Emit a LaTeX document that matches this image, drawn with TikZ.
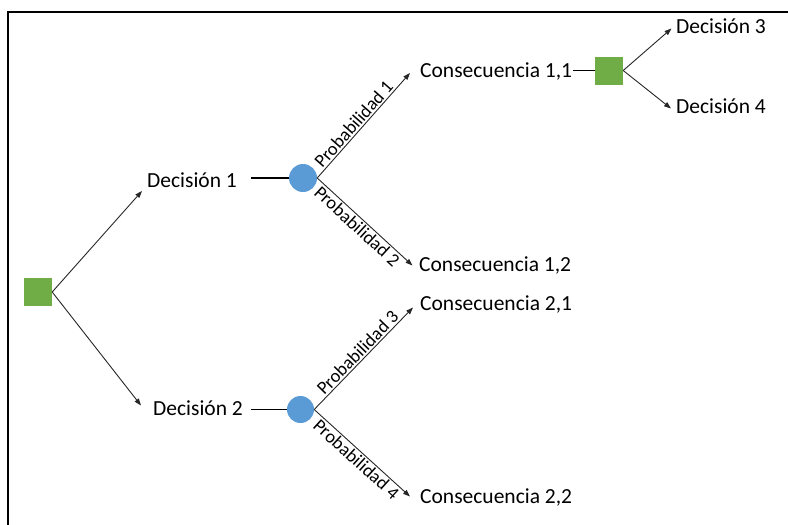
\documentclass[tikz,border=0pt]{standalone}
\usepackage{fontspec}
\setmainfont{Carlito}
\usetikzlibrary{arrows.meta,calc}
\definecolor{boxgreen}{HTML}{70AD47}
\definecolor{chanceblue}{HTML}{5B9BD5}
\begin{document}
\begin{tikzpicture}[x=1pt,y=-1pt,
  decision/.style={rectangle, fill=boxgreen, minimum size=28pt, inner sep=0pt},
  chance/.style={circle, fill=chanceblue, minimum size=28pt, inner sep=0pt},
  txt/.style={anchor=base west, inner sep=0pt, font=\fontsize{21.5}{25}\selectfont},
  branch/.style={draw=black!85, line width=0.9pt, -{Triangle[length=7pt,width=5pt]}},
  stem/.style={draw=black, line width=1.8pt},
  prob/.style={sloped, font=\fontsize{18.5}{22}\selectfont, inner sep=1.5pt}
]
\useasboundingbox (0,0) rectangle (788,525);
% frame
\draw[line width=1.7pt] (8,525) -- (8,12) -- (788,12);

% nodes
\node[decision] (root) at (38,292) {};
\node[txt] (d1) at (147,187.5) {Decisión 1};
\node[txt] (d2) at (153,415.5) {Decisión 2};
\node[chance] (c1) at (303,178) {};
\node[chance, minimum size=27pt] (c2) at (300.5,409.5) {};
\node[txt] (k11) at (420,77.5) {Consecuencia 1,1};
\node[txt] (k12) at (419,271.5) {Consecuencia 1,2};
\node[txt] (k21) at (420,310.5) {Consecuencia 2,1};
\node[txt] (k22) at (420,503.5) {Consecuencia 2,2};
\node[decision] (sq2) at (609,70.5) {};
\node[txt] (d3) at (676,33.5) {Decisión 3};
\node[txt] (d4) at (676,113.5) {Decisión 4};

% decisions from the root
\draw[branch] (root.east) -- ($(d1.base west)+(-5,3.5)$);
\draw[branch] (root.east) -- ($(d2.base west)+(-12,-10)$);

% stems into chance nodes
\draw[stem] (c1.west) -- ++(-38,0);
\draw[stem] (c2.west) -- ++(-36,0);
\draw[stem] (sq2.west) -- ++(-22,0);

% chance branches
\draw[branch] (c1.east) -- node[prob, above, pos=0.46] {Probabilidad 1} ($(k11.base west)+(-10,-4.5)$);
\draw[branch] (c1.east) -- node[prob, below, pos=0.48] {Probabilidad 2} ($(k12.base west)+(-6.5,-6)$);
\draw[branch] (c2.east) -- node[prob, above, pos=0.5] {Probabilidad 3} ($(k21.base west)+(-7,-3)$);
\draw[branch] (c2.east) -- node[prob, below, pos=0.5] {Probabilidad 4} ($(k22.base west)+(-10,-7)$);

% second decision
\draw[branch] (sq2.east) -- ($(d3.base west)+(-4.5,-5)$);
\draw[branch] (sq2.east) -- ($(d4.base west)+(-5,-5)$);
\end{tikzpicture}
\end{document}
